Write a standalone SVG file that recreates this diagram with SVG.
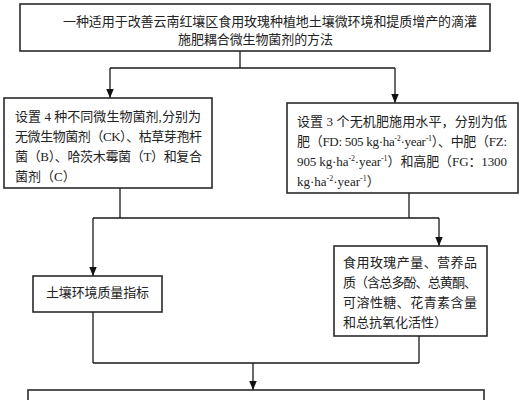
<svg xmlns="http://www.w3.org/2000/svg" width="522" height="400" viewBox="0 0 522 400">
<defs>
<style>
.box{fill:#fff;stroke:#2a2a2a;stroke-width:1.6}
.ln{fill:none;stroke:#1a1a1a;stroke-width:1.3}
.t{font-family:"Liberation Serif","Noto Sans CJK SC",serif;font-size:13px;fill:#222}
.sup{font-size:8px}
</style>
<marker id="ah" markerUnits="userSpaceOnUse" markerWidth="10" markerHeight="8" refX="9" refY="3.75" orient="auto">
<path d="M0,0 L9,3.75 L0,7.5 z" fill="#111"/>
</marker>
</defs>
<rect width="522" height="400" fill="#fff"/>
<g id="connectors">
<path class="ln" d="M240,51 V68 M110,68 H395"/>
<path class="ln" d="M110,68 V98" marker-end="url(#ah)"/>
<path class="ln" d="M395,68 V103" marker-end="url(#ah)"/>
<path class="ln" d="M120,188 V218 M409,193 V218 M93,218 H439"/>
<path class="ln" d="M93,218 V276" marker-end="url(#ah)"/>
<path class="ln" d="M439,218 V246" marker-end="url(#ah)"/>
<path class="ln" d="M93,312 V363 M419,336 V363 M93,363 H419"/>
<path class="ln" d="M253,363 V390" marker-end="url(#ah)"/>
</g>
<g id="n-top">
<rect class="box" x="20" y="4" width="470" height="47"/>
<text class="t" x="63" y="26" textLength="414" lengthAdjust="spacing">一种适用于改善云南红壤区食用玫瑰种植地土壤微环境和提质增产的滴灌</text>
<text class="t" x="178" y="44" textLength="155" lengthAdjust="spacing">施肥耦合微生物菌剂的方法</text>
</g>
<g id="n-microbe">
<rect class="box" x="4" y="98" width="208" height="90"/>
<text class="t" x="15" y="121" textLength="186" lengthAdjust="spacing">设置 4 种不同微生物菌剂,分别为</text>
<text class="t" x="15" y="141" textLength="187" lengthAdjust="spacing">无微生物菌剂（CK）、枯草芽孢杆</text>
<text class="t" x="15" y="161" textLength="187" lengthAdjust="spacing">菌（B）、哈茨木霉菌（T）和复合</text>
<text class="t" x="15" y="181">菌剂（C）</text>
</g>
<g id="n-fert">
<rect class="box" x="287" y="103" width="231" height="90"/>
<text class="t" x="297" y="126" textLength="210" lengthAdjust="spacing">设置 3 个无机肥施用水平，分别为低</text>
<text class="t" x="297" y="146" textLength="210" lengthAdjust="spacing">肥（FD: 505 kg·ha<tspan class="sup" dy="-5">-2</tspan><tspan dy="5">·year</tspan><tspan class="sup" dy="-5">-1</tspan><tspan dy="5">）、中肥（FZ:</tspan></text>
<text class="t" x="297" y="166" textLength="210" lengthAdjust="spacing">905 kg·ha<tspan class="sup" dy="-5">-2</tspan><tspan dy="5">·year</tspan><tspan class="sup" dy="-5">-1</tspan><tspan dy="5">）和高肥（FG：1300</tspan></text>
<text class="t" x="297" y="186">kg·ha<tspan class="sup" dy="-5">-2</tspan><tspan dy="5">·year</tspan><tspan class="sup" dy="-5">-1</tspan><tspan dy="5">）</tspan></text>
</g>
<g id="n-soil">
<rect class="box" x="33" y="276" width="129" height="36"/>
<text class="t" x="46" y="297" textLength="103" lengthAdjust="spacing">土壤环境质量指标</text>
</g>
<g id="n-quality">
<rect class="box" x="334" y="246" width="153" height="90"/>
<text class="t" x="343" y="267" textLength="134" lengthAdjust="spacing">食用玫瑰产量、营养品</text>
<text class="t" x="343" y="287" textLength="134" lengthAdjust="spacing">质（含总多酚、总黄酮、</text>
<text class="t" x="343" y="307" textLength="134" lengthAdjust="spacing">可溶性糖、花青素含量</text>
<text class="t" x="343" y="327">和总抗氧化活性）</text>
</g>
<g id="n-result">
<rect class="box" x="28" y="390" width="456" height="30"/>
</g>
</svg>
